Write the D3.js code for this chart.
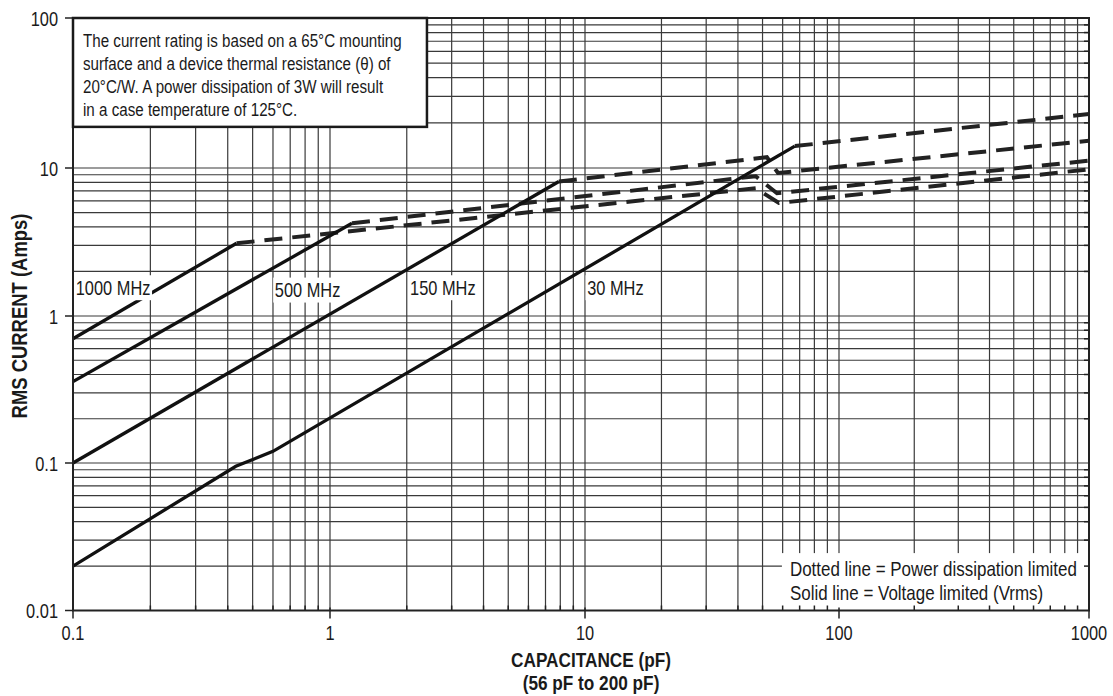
<!DOCTYPE html>
<html><head><meta charset="utf-8">
<script src="https://cdn.jsdelivr.net/npm/d3@7"></script>
<style>
body{margin:0;background:#fff;}
svg text{font-family:"Liberation Sans",Arial,Helvetica,sans-serif;fill:#1a1a1a;}
</style></head><body>
<svg id="chart" width="1113" height="696"></svg>
<script>
// ---- data ----
const capTicks = [0.1, 1, 10, 100, 1000];
const capTickLabels = ["0.1", "1", "10", "100", "1000"];
const ampTicks = [0.01, 0.1, 1, 10, 100];
const ampTickLabels = ["0.01", "0.1", "1", "10", "100"];

const freqLabels = ["1000 MHz", "500 MHz", "150 MHz", "30 MHz"];
const freqLabelAt = [[0.1025, 1.39], [0.61, 1.34], [2.06, 1.39], [10.2, 1.39]];

// solid = voltage limited, dashed = power dissipation limited  [pF, A]
const solid1000 = [[0.1, 0.70], [0.433, 3.1]];
const dashed1000 = [[0.433, 3.1], [47, 7.3], [58, 5.8], [1000, 9.8]];
const solid500 = [[0.1, 0.358], [1.22, 4.23]];
const dashed500 = [[1.22, 4.23], [47, 8.8], [57, 6.75], [1000, 11.2]];
const solid150 = [[0.1, 0.1], [7.9, 8.1]];
const dashed150 = [[7.9, 8.1], [52, 11.8], [57.5, 9.25], [1000, 15.2]];
const solid30 = [[0.1, 0.02], [0.43, 0.095], [0.6, 0.12], [67, 14.0]];
const dashed30 = [[67, 14.0], [1000, 22.9]];

const noteLines = [
  "The current rating is based on a 65\u00B0C mounting",
  "surface and a device thermal resistance (\u03B8) of",
  "20\u00B0C/W. A power dissipation of 3W will result",
  "in a case temperature of 125\u00B0C."
];
const noteBox = [[0.1, 100], [2.4, 18.8]];
const legendLines = ["Dotted line = Power dissipation limited", "Solid line = Voltage limited (Vrms)"];
const legendBox = [[59.6, 0.0245], [1000, 0.01]];

// ---- scales ----
const svg = d3.select("#chart");
const x = d3.scaleLog().domain(capTicks).range([73, 330, 585, 839, 1089]);
const y = d3.scaleLog().domain(ampTicks).range([610.5, 463, 316, 168, 18]);
const SX = 0.82; // condensed type

function txt(parent, px, py, s, size, opt = {}) {
  const g = parent.append("g")
    .attr("transform", `translate(${px},${py})${opt.rotate ? ` rotate(${opt.rotate})` : ""} scale(${SX},1)`);
  const t = g.append("text").attr("font-size", size).text(s);
  if (opt.anchor) t.attr("text-anchor", opt.anchor);
  if (opt.bold) t.attr("font-weight", "bold");
  return { g, t };
}

const capMinor = [], ampMinor = [];
capTicks.slice(0, -1).forEach(d => { for (let k = 2; k <= 9; k++) capMinor.push(+(k * d).toPrecision(3)); });
ampTicks.slice(0, -1).forEach(d => { for (let k = 2; k <= 9; k++) ampMinor.push(+(k * d).toPrecision(3)); });

const X0 = x(0.1), X1 = x(1000), Y0 = y(0.01), Y1 = y(100);
const gridColor = "#3a3a3a";

// grid
const grid = svg.append("g");
grid.selectAll("line.v").data(capMinor.concat(capTicks)).join("line")
  .attr("x1", d => x(d)).attr("x2", d => x(d)).attr("y1", Y0).attr("y2", Y1)
  .attr("stroke", gridColor).attr("stroke-width", 1.2);
grid.selectAll("line.h").data(ampMinor.concat(ampTicks)).join("line")
  .attr("y1", d => y(d)).attr("y2", d => y(d)).attr("x1", X0).attr("x2", X1)
  .attr("stroke", gridColor).attr("stroke-width", 1.2);

// curves
svg.append("clipPath").attr("id", "clip").append("rect")
  .attr("x", X0).attr("y", Y1).attr("width", X1 - X0).attr("height", Y0 - Y1);
const line = d3.line().x(d => x(d[0])).y(d => y(d[1]));
const curves = svg.append("g").attr("clip-path", "url(#clip)");
[dashed1000, dashed500, dashed150, dashed30].forEach(s => {
  curves.append("path").attr("d", line(s)).attr("fill", "none")
    .attr("stroke", "#222").attr("stroke-width", 4).attr("stroke-dasharray", "18,10");
});
[solid1000, solid500, solid150, solid30].forEach(s => {
  curves.append("path").attr("d", line(s)).attr("fill", "none")
    .attr("stroke", "#111").attr("stroke-width", 3.3).attr("stroke-linejoin", "miter");
});

// frequency labels with white backing
freqLabels.forEach((t, i) => {
  const o = txt(svg, x(freqLabelAt[i][0]), y(freqLabelAt[i][1]), t, 20);
  const b = o.t.node().getBBox();
  o.g.insert("rect", "text").attr("fill", "#fff")
    .attr("x", b.x - 2).attr("y", b.y - 1).attr("width", b.width + 4).attr("height", b.height + 2);
});

// legend box (white, no border)
const lg = svg.append("g");
const lx0 = x(legendBox[0][0]), ly0 = y(legendBox[0][1]);
lg.append("rect").attr("x", lx0).attr("y", ly0)
  .attr("width", x(legendBox[1][0]) - lx0).attr("height", y(legendBox[1][1]) - ly0)
  .attr("fill", "#fff");
legendLines.forEach((t, i) => txt(lg, lx0 + 8, ly0 + 23 + i * 24, t, 20.7));

// ticks: inner minor ticks on bottom and right, outer major ticks on bottom and left
const ticks = svg.append("g").attr("stroke", "#222").attr("stroke-width", 1.5);
ticks.selectAll("line.bm").data(capMinor).join("line")
  .attr("x1", d => x(d)).attr("x2", d => x(d)).attr("y1", Y0).attr("y2", Y0 - 5);
ticks.selectAll("line.rm").data(ampMinor).join("line")
  .attr("y1", d => y(d)).attr("y2", d => y(d)).attr("x1", X1).attr("x2", X1 - 5);
ticks.selectAll("line.bM").data(capTicks).join("line")
  .attr("x1", d => x(d)).attr("x2", d => x(d)).attr("y1", Y0 - 3).attr("y2", Y0 + 8);
ticks.selectAll("line.lM").data(ampTicks).join("line")
  .attr("y1", d => y(d)).attr("y2", d => y(d)).attr("x1", X0 - 8).attr("x2", X0);

// plot border
svg.append("rect").attr("x", X0).attr("y", Y1).attr("width", X1 - X0).attr("height", Y0 - Y1)
  .attr("fill", "none").attr("stroke", "#222").attr("stroke-width", 2);

// note box
const nb = svg.append("g");
const nx0 = x(noteBox[0][0]), ny0 = y(noteBox[0][1]);
nb.append("rect").attr("x", nx0).attr("y", ny0)
  .attr("width", x(noteBox[1][0]) - nx0).attr("height", y(noteBox[1][1]) - ny0)
  .attr("fill", "#fff").attr("stroke", "#1a1a1a").attr("stroke-width", 2.5);
noteLines.forEach((t, i) => txt(nb, nx0 + 10, ny0 + 28.5 + i * 23.3, t, 18.5));

// tick labels
const tl = svg.append("g");
capTicks.forEach((d, i) => txt(tl, x(d), Y0 + 29, capTickLabels[i], 20, { anchor: "middle" }));
ampTicks.forEach((d, i) => txt(tl, X0 - 15, y(d) + 7.5, ampTickLabels[i], 20, { anchor: "end" }));

// axis titles
txt(svg, x(10) + 6, 667, "CAPACITANCE (pF)", 21, { anchor: "middle", bold: true });
txt(svg, x(10) + 6, 690, "(56 pF to 200 pF)", 21, { anchor: "middle", bold: true });
txt(svg, 27, y(1), "RMS CURRENT (Amps)", 22.5, { anchor: "middle", bold: true, rotate: -90 });
</script>
</body></html>
